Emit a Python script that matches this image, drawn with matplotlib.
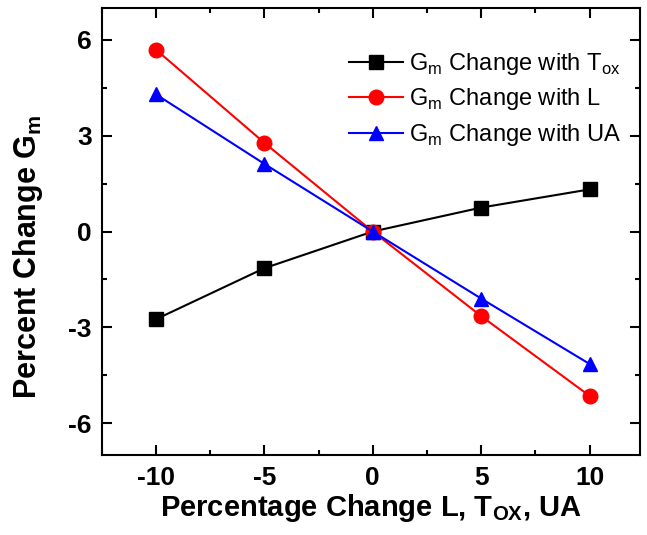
import matplotlib
matplotlib.use('Agg')
import matplotlib.pyplot as plt
from matplotlib.ticker import MultipleLocator

plt.rcParams['font.family'] = 'Liberation Sans'
plt.rcParams['mathtext.fontset'] = 'custom'
plt.rcParams['mathtext.rm'] = 'Liberation Sans'
plt.rcParams['mathtext.bf'] = 'Liberation Sans:bold'
plt.rcParams['axes.unicode_minus'] = False

pct_change = [-10, -5, 0, 5, 10]
gm_tox = [-2.75, -1.15, 0.0, 0.75, 1.32]
gm_l = [5.7, 2.78, 0.0, -2.65, -5.15]
gm_ua = [4.3, 2.12, 0.0, -2.1, -4.15]

fig = plt.figure(figsize=(6.47, 5.35), dpi=100)
ax = fig.add_axes([0.157, 0.1495, 0.8315, 0.8355])

ax.plot(pct_change, gm_tox, color='black', marker='s', markersize=9.5, lw=1.5,
        label=r'G$_\mathrm{m}$ Change with T$_\mathrm{ox}$')
ax.plot(pct_change, gm_l, color='red', marker='o', markersize=10.5, lw=1.5,
        label=r'G$_\mathrm{m}$ Change with L')
ax.plot(pct_change, gm_ua, color='blue', marker='^', markersize=10.5, lw=1.5,
        label=r'G$_\mathrm{m}$ Change with UA')

ax.set_xlim(-12.5, 12.3)
ax.set_ylim(-7, 7)
ax.xaxis.set_major_locator(MultipleLocator(5))
ax.xaxis.set_minor_locator(MultipleLocator(2.5))
ax.yaxis.set_major_locator(MultipleLocator(3))
ax.yaxis.set_minor_locator(MultipleLocator(1.5))
ax.tick_params(which='both', direction='in', top=True, right=True, width=1.5)
ax.tick_params(which='major', length=7, labelsize=19)
ax.tick_params(which='minor', length=3.5)
ax.tick_params(axis='x', pad=8)
ax.tick_params(axis='y', pad=7)
for lbl in ax.get_xticklabels() + ax.get_yticklabels():
    lbl.set_fontweight('bold')
for sp in ax.spines.values():
    sp.set_linewidth(1.5)

ax.set_xlabel(r'Percentage Change L, T$_\mathbf{OX}$, UA', fontsize=21, fontweight='bold', labelpad=1)
ax.set_ylabel(r'Percent Change G$_\mathbf{m}$', fontsize=22, fontweight='bold')
ax.yaxis.set_label_coords(-0.106, 0.443)

ax.legend(loc='upper left', frameon=False, fontsize=17, handlelength=2.3,
          handletextpad=0.25, labelspacing=0.4, borderaxespad=0,
          bbox_to_anchor=(0.4417, 0.925))

fig.savefig('out.png', dpi=100)
